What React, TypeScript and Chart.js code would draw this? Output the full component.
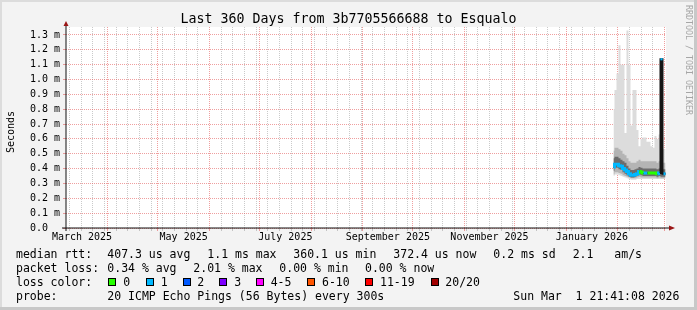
import React, { useEffect, useRef } from 'react';
import { Chart, registerables } from 'chart.js';

Chart.register(...registerables);

// ---------- data (x = days since 1 Mar 2025 00:00, y = milliseconds) ----------
const rangeStart = 5.904; // 6 Mar 2025 21:41
const rangeEnd = 365.904; // 1 Mar 2026 21:41

const sampleDays = [
  334.4, 335.6, 336.8, 338.0, 339.2, 340.4, 341.6, 342.8, 344.0, 345.2, 346.4, 347.6, 348.8, 350.0,
  351.2, 352.4, 353.6, 354.8, 356.0, 357.2, 358.4, 359.6, 360.8, 362.0, 363.2, 364.4, 365.6,
];
const medianRtt = [
  0.41, 0.43, 0.43, 0.42, 0.415, 0.4, 0.39, 0.38, 0.365, 0.355, 0.355, 0.36, 0.365, 0.38,
  0.375, 0.37, 0.37, 0.37, 0.37, 0.37, 0.37, 0.37, 0.365, 0.37, 1.136, 0.365, 0.365,
];
const lostPings = [1, 1, 1, 1, 1, 1, 1, 1, 1, 1, 1, 1, 1, 0, 0, 1, 1, 0, 0, 0, 0, 0, 1, 0, 1, 1, 1];
const smokeMax = [
  0.8, 0.93, 1.04, 1.23, 1.1, 1.1, 0.64, 1.33, 1.1, 0.69, 0.93, 0.93, 0.66, 0.55,
  0.6, 0.61, 0.61, 0.58, 0.58, 0.55, 0.54, 0.62, 0.6, 0.63, 0.6, 0.53, 0.53,
];
const smokeMin = [
  0.35, 0.36, 0.36, 0.355, 0.35, 0.345, 0.34, 0.335, 0.33, 0.325, 0.325, 0.325, 0.33, 0.33,
  0.33, 0.33, 0.33, 0.33, 0.33, 0.33, 0.33, 0.33, 0.33, 0.33, 0.33, 0.33, 0.33,
];
const smokeUpper = [
  0.52, 0.54, 0.54, 0.53, 0.52, 0.5, 0.49, 0.47, 0.45, 0.44, 0.44, 0.44, 0.45, 0.46,
  0.45, 0.45, 0.45, 0.45, 0.45, 0.45, 0.45, 0.45, 0.44, 0.45, 0.45, 0.44, 0.44,
];
const smokeLower = [
  0.36, 0.375, 0.375, 0.37, 0.365, 0.355, 0.35, 0.345, 0.34, 0.335, 0.335, 0.335, 0.34, 0.345,
  0.34, 0.34, 0.34, 0.34, 0.34, 0.34, 0.34, 0.34, 0.335, 0.34, 0.335, 0.335, 0.335,
];
const coreUpper = [
  0.47, 0.48, 0.48, 0.47, 0.46, 0.45, 0.44, 0.42, 0.4, 0.39, 0.39, 0.395, 0.4, 0.41,
  0.405, 0.4, 0.4, 0.4, 0.4, 0.4, 0.4, 0.4, 0.395, 0.4, 0.4, 0.395, 0.395,
];
const coreLower = [
  0.385, 0.405, 0.405, 0.395, 0.39, 0.375, 0.365, 0.355, 0.345, 0.34, 0.34, 0.345, 0.35, 0.36,
  0.355, 0.35, 0.35, 0.35, 0.35, 0.35, 0.35, 0.35, 0.345, 0.35, 0.345, 0.345, 0.345,
];

// ---------- axes ----------
const monthStartDays = [0, 31, 61, 92, 122, 153, 184, 214, 245, 275, 306, 337, 365];
const firstSunday = 8; // 9 Mar 2025
const monthLabels = ['March 2025', 'May 2025', 'July 2025', 'September 2025', 'November 2025', 'January 2026'];
const monthLabelDays = [15.5, 76.5, 137.5, 199, 260, 321.5];
const yTickValues = [0, 0.1, 0.2, 0.3, 0.4, 0.5, 0.6, 0.7, 0.8, 0.9, 1.0, 1.1, 1.2, 1.3];
const yTickLabels = ['0.0  ', '0.1 m', '0.2 m', '0.3 m', '0.4 m', '0.5 m', '0.6 m', '0.7 m', '0.8 m', '0.9 m', '1.0 m', '1.1 m', '1.2 m', '1.3 m'];

// ---------- texts ----------
const titleText = 'Last 360 Days from 3b7705566688 to Esqualo';
const yAxisTitle = 'Seconds';
const watermark = 'RRDTOOL / TOBI OETIKER';
const rttLine = ['median rtt:', '407.3 us avg', '1.1 ms max', '360.1 us min', '372.4 us now', '0.2 ms sd', '2.1', 'am/s'];
const lossLine = ['packet loss:', '0.34 % avg', '2.01 % max', '0.00 % min', '0.00 % now'];
const lossColorTitle = 'loss color:';
const lossLabels = ['0', '1', '2', '3', '4-5', '6-10', '11-19', '20/20'];
const lossColors = ['#26ff00', '#00b8ff', '#0059ff', '#7e00ff', '#ff00ff', '#ff5500', '#ff0000', '#a10000'];
const probeLine = ['probe:', '20 ICMP Echo Pings (56 Bytes) every 300s', 'Sun Mar  1 21:41:08 2026'];

// ---------- layout (pixels) ----------
const W = 697;
const H = 310;
const rttX = [16, 107.3, 207.3, 293.3, 393.3, 493.3, 572.7, 614.3];
const lossX = [16, 107.3, 193.3, 279.3, 365];
const boxX = [108.3, 145.7, 182.7, 219.3, 256, 307.3, 365.3, 430.7];
const boxLabelX = [123.3, 160.7, 197.3, 234.3, 270.7, 322, 380, 445.3];
const probeX = [16, 107.3, 513.3];
const lineTops = [247.3, 261.3, 275.3, 289.3];
const MONO = "'DejaVu Sans Mono', monospace";

const MAJOR = 'rgba(225, 80, 80, 0.55)';
const MINOR = 'rgba(150, 150, 150, 0.5)';

function lossIndex(n: number) {
  if (n <= 3) return n;
  if (n <= 5) return 4;
  if (n <= 10) return 5;
  if (n <= 19) return 6;
  return 7;
}

const weekDays: number[] = [];
for (let d = firstSunday; d <= rangeEnd; d += 7) weekDays.push(d);
const monthSet = new Set(monthStartDays);
const weekSet = new Set(weekDays);
const xTickValues = Array.from(
  new Set([...weekDays, ...monthStartDays.filter((d) => d >= rangeStart), ...monthLabelDays]),
).sort((a, b) => a - b);

function xGridColor(ctx: any) {
  const v = ctx.tick ? ctx.tick.value : null;
  if (v == null) return MINOR;
  if (monthSet.has(v)) return MAJOR;
  if (weekSet.has(v)) return MINOR;
  return 'rgba(0,0,0,0)';
}

function series(vals: number[]) {
  return vals.map((y, i) => ({ x: sampleDays[i], y }));
}

const isSpike = (i: number) => {
  const prev = medianRtt[i - 1] ?? medianRtt[i];
  const next = medianRtt[i + 1] ?? medianRtt[i];
  return medianRtt[i] - Math.max(prev, next) > 0.3;
};

const framePlugin = {
  id: 'rrdFrame',
  beforeDraw(chart: any) {
    const { ctx, chartArea } = chart;
    ctx.save();
    ctx.fillStyle = '#f3f3f3';
    ctx.fillRect(0, 0, W, H);
    ctx.fillStyle = '#dcdcdc';
    ctx.fillRect(0, 0, W, 2);
    ctx.fillRect(0, 0, 2, H);
    ctx.fillStyle = '#c8c8c8';
    ctx.fillRect(W - 3, 0, 3, H);
    ctx.fillRect(0, H - 3, W, 3);
    ctx.fillStyle = '#ffffff';
    ctx.fillRect(chartArea.left, chartArea.top, chartArea.right - chartArea.left, chartArea.bottom - chartArea.top);
    ctx.restore();
  },
  afterDraw(chart: any) {
    const { ctx, chartArea } = chart;
    const L = chartArea.left;
    const B = chartArea.bottom;
    const R = chartArea.right;
    const T = chartArea.top;
    ctx.save();
    ctx.strokeStyle = '#111';
    ctx.lineWidth = 1;
    ctx.beginPath();
    ctx.moveTo(L, B + 3);
    ctx.lineTo(L, T - 3);
    ctx.moveTo(L - 4, B);
    ctx.lineTo(R + 3, B);
    ctx.stroke();
    ctx.fillStyle = '#9a1515';
    ctx.beginPath();
    ctx.moveTo(L - 2.5, T - 1);
    ctx.lineTo(L + 2.5, T - 1);
    ctx.lineTo(L, T - 6);
    ctx.closePath();
    ctx.fill();
    ctx.beginPath();
    ctx.moveTo(R + 3, B - 2.5);
    ctx.lineTo(R + 3, B + 2.5);
    ctx.lineTo(R + 9, B);
    ctx.closePath();
    ctx.fill();
    ctx.restore();
  },
};

const text = (left: number, top: number, s: string, extra: any = {}) => (
  <div
    key={`${left}-${top}-${s}`}
    style={{
      position: 'absolute',
      left,
      top,
      fontFamily: MONO,
      fontSize: 11.5,
      lineHeight: '14px',
      whiteSpace: 'pre',
      color: '#000',
      ...extra,
    }}
  >
    {s}
  </div>
);

export default function App() {
  const ref = useRef<HTMLCanvasElement | null>(null);

  useEffect(() => {
    document.body.style.margin = '0';
    const canvas = ref.current;
    if (!canvas) return;
    const stepped = 'middle' as const;
    const invisible = 'rgba(0,0,0,0)';
    const chart = new Chart(canvas, {
      type: 'line',
      data: {
        datasets: [
          { data: series(smokeMax), fill: 1, backgroundColor: '#dcdcdc', borderColor: invisible, borderWidth: 0, pointRadius: 0, stepped, order: 10 },
          { data: series(smokeMin), fill: false, borderColor: invisible, borderWidth: 0, pointRadius: 0, stepped, order: 11 },
          { data: series(smokeUpper), fill: 3, backgroundColor: '#b4b4b4', borderColor: invisible, borderWidth: 0, pointRadius: 0, stepped, order: 8 },
          { data: series(smokeLower), fill: false, borderColor: invisible, borderWidth: 0, pointRadius: 0, stepped, order: 9 },
          { data: series(coreUpper), fill: 5, backgroundColor: '#6c6c6c', borderColor: invisible, borderWidth: 0, pointRadius: 0, stepped, order: 6 },
          { data: series(coreLower), fill: false, borderColor: invisible, borderWidth: 0, pointRadius: 0, stepped, order: 7 },
          { data: series(medianRtt), fill: false, borderColor: '#151515', borderWidth: 2, pointRadius: 0, stepped, order: 2 },
          {
            data: series(medianRtt),
            fill: false,
            borderWidth: 3,
            stepped,
            order: 1,
            borderColor: lossColors[1],
            segment: {
              borderColor: (ctx: any) =>
                Math.abs(ctx.p1.parsed.y - ctx.p0.parsed.y) > 0.2 ? invisible : lossColors[lossIndex(lostPings[ctx.p0DataIndex])],
            },
            pointStyle: 'rect',
            pointRadius: (ctx: any) => (isSpike(ctx.dataIndex) ? 1.5 : 0),
            pointBorderWidth: 0,
            pointBackgroundColor: (ctx: any) => lossColors[lossIndex(lostPings[ctx.dataIndex] ?? 0)],
          } as any,
        ],
      },
      options: {
        responsive: false,
        devicePixelRatio: 1,
        animation: false,
        events: [],
        layout: { padding: { left: 6, right: 31, top: 27, bottom: 0 } },
        plugins: { legend: { display: false }, tooltip: { enabled: false }, title: { display: false } },
        scales: {
          x: {
            type: 'linear',
            min: rangeStart,
            max: rangeEnd,
            afterBuildTicks: (s: any) => {
              s.ticks = xTickValues.map((v) => ({ value: v }));
            },
            afterFit: (s: any) => {
              s.height = 82;
            },
            ticks: {
              autoSkip: false,
              maxRotation: 0,
              minRotation: 0,
              padding: 0,
              color: '#000',
              font: { family: MONO, size: 10 },
              callback: (v: any) => {
                const i = monthLabelDays.indexOf(Number(v));
                return i >= 0 ? monthLabels[i] : '';
              },
            },
            grid: { color: xGridColor, tickColor: xGridColor, tickLength: 3, lineWidth: 1, borderDash: [1, 1] } as any,
            border: { display: false, dash: [1, 1] },
          },
          y: {
            type: 'linear',
            min: 0,
            max: 1.3535,
            afterBuildTicks: (s: any) => {
              s.ticks = yTickValues.map((v) => ({ value: v }));
            },
            afterFit: (s: any) => {
              s.width = 60;
            },
            ticks: {
              padding: 3,
              color: '#000',
              font: { family: MONO, size: 10 },
              callback: (v: any) => {
                const i = yTickValues.findIndex((t) => Math.abs(t - Number(v)) < 1e-6);
                return i >= 0 ? yTickLabels[i] : '';
              },
            },
            grid: { color: MAJOR, tickColor: MAJOR, tickLength: 3, lineWidth: 1, borderDash: [1, 1] } as any,
            border: { display: false, dash: [1, 1] },
          },
        },
      },
      plugins: [framePlugin],
    });
    return () => chart.destroy();
  }, []);

  return (
    <div style={{ position: 'relative', width: W, height: H, overflow: 'hidden', background: '#f3f3f3' }}>
      <canvas ref={ref} width={W} height={H} style={{ position: 'absolute', left: 0, top: 0, width: W, height: H }} />
      <div
        style={{
          position: 'absolute',
          left: 0,
          top: 11,
          width: W,
          textAlign: 'center',
          fontFamily: MONO,
          fontSize: 13.3,
          lineHeight: '16px',
          whiteSpace: 'pre',
          color: '#000',
        }}
      >
        {titleText}
      </div>
      <div
        style={{
          position: 'absolute',
          left: 4,
          top: 132 - 25,
          height: 50,
          width: 14,
          writingMode: 'vertical-rl',
          transform: 'rotate(180deg)',
          fontFamily: MONO,
          fontSize: 10,
          lineHeight: '14px',
          textAlign: 'center',
          color: '#000',
        }}
      >
        {yAxisTitle}
      </div>
      <div
        style={{
          position: 'absolute',
          left: 683,
          top: 5,
          width: 11,
          writingMode: 'vertical-rl',
          fontFamily: MONO,
          fontSize: 8.3,
          lineHeight: '11px',
          whiteSpace: 'pre',
          color: '#a6a6a6',
        }}
      >
        {watermark}
      </div>
      {rttLine.map((s, i) => text(rttX[i], lineTops[0], s))}
      {lossLine.map((s, i) => text(lossX[i], lineTops[1], s))}
      {text(16, lineTops[2], lossColorTitle)}
      {lossLabels.map((s, i) => (
        <React.Fragment key={s}>
          <div
            style={{
              position: 'absolute',
              left: Math.round(boxX[i]),
              top: 278,
              width: 8,
              height: 8,
              boxSizing: 'border-box',
              border: '1px solid #000',
              background: lossColors[i],
            }}
          />
          {text(boxLabelX[i], lineTops[2], s)}
        </React.Fragment>
      ))}
      {probeLine.map((s, i) => text(probeX[i], lineTops[3], s))}
    </div>
  );
}
